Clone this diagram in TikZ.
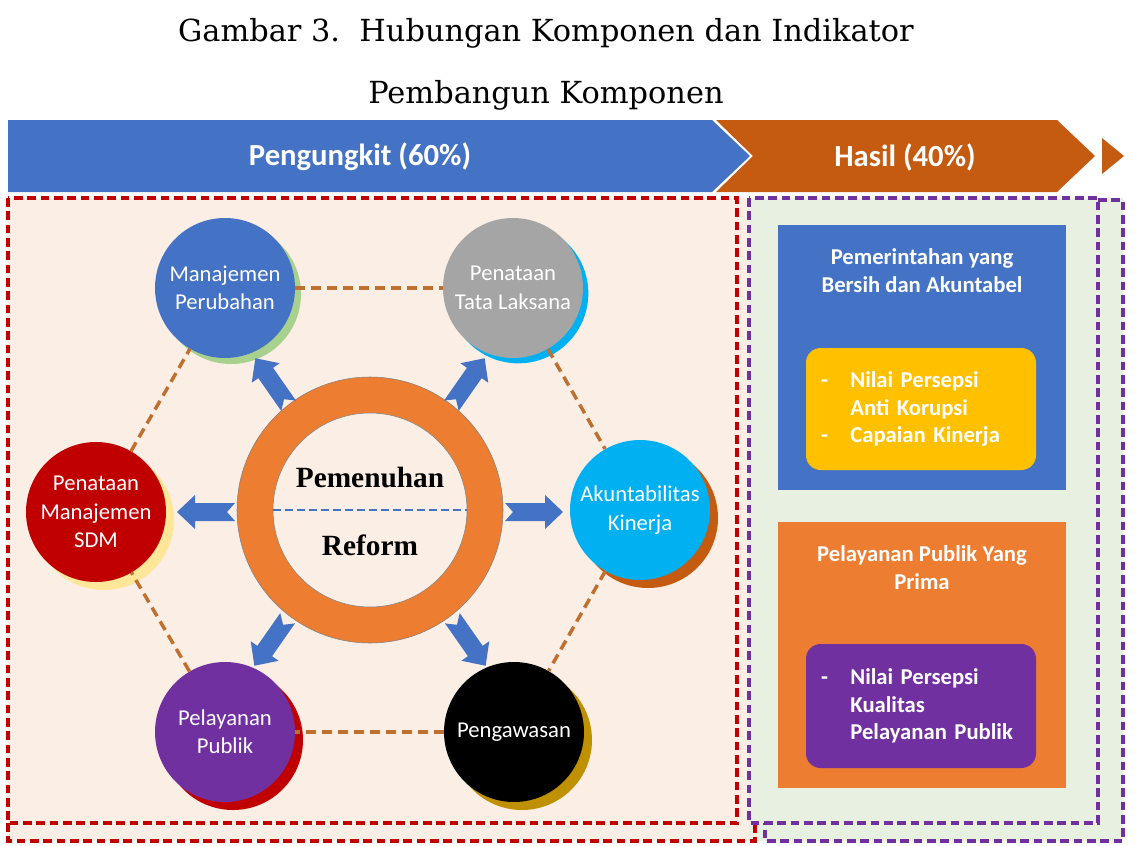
\documentclass[tikz,border=0pt]{standalone}
\usepackage{fontspec}
\setmainfont{Carlito}
\newfontfamily\titlefont{DejaVu Serif}
\newfontfamily\ringfont{Liberation Serif}
\usetikzlibrary{shadows,positioning}

\definecolor{bannerblue}{HTML}{4472C4}
\definecolor{bannerorange}{HTML}{C55A11}
\definecolor{boxorange}{HTML}{ED7D31}
\definecolor{indyellow}{HTML}{FFC000}
\definecolor{indpurple}{HTML}{7030A0}
\definecolor{peachbg}{HTML}{FBEEE5}
\definecolor{greenbg}{HTML}{E8F0E1}
\definecolor{darkred}{HTML}{C00000}
\definecolor{hexbrown}{HTML}{C0702E}
\definecolor{skyblue}{HTML}{00B0F0}
\definecolor{lightgreen}{HTML}{A9D18E}
\definecolor{paleyellow}{HTML}{FFE699}
\definecolor{gold}{HTML}{BF9000}
\definecolor{midgray}{HTML}{A5A5A5}

\tikzset{
  blkarrow/.pic={\fill[bannerblue] (-29,-9) -- (11,-9) -- (11,-17) -- (29,0) -- (11,17) -- (11,9) -- (-29,9) -- (-21,0) -- cycle;}
}

\begin{document}
\begin{tikzpicture}[x=0.75pt,y=-0.75pt,
    comp/.style={circle,minimum size=105pt,inner sep=0pt,text=white,align=center,
                 font=\fontsize{17}{21.3}\selectfont},
    shade/.style 2 args={drop shadow={shadow xshift=#1,shadow yshift=-#1,opacity=1,fill=#2}},
    hexline/.style={draw=hexbrown,line width=2.6pt,dash pattern=on 7.5pt off 4.5pt},
    reddash/.style={draw=darkred,line width=2.6pt,dash pattern=on 6.5pt off 3.5pt},
    purpledash/.style={draw=indpurple,line width=2.6pt,dash pattern=on 6.5pt off 3.5pt},
    banner/.style={text=white,font=\fontsize{23}{27}\selectfont\bfseries},
    goaltitle/.style={text=white,align=center,font=\fontsize{17}{21}\selectfont\bfseries},
    goalbox/.style={minimum width=216pt,inner sep=0pt},
    indbox/.style={rounded corners=11pt,minimum width=172.5pt,text width=150pt,inner xsep=11pt,
                   align=left,text=white,font=\fontsize{17}{20.6}\selectfont\bfseries},
    ringtext/.style={font=\ringfont\fontsize{22}{26}\selectfont\bfseries}]
\useasboundingbox (0,0) rectangle (1140,846);

% judul
\node[font=\titlefont\fontsize{22.8}{26}\selectfont] (title1) at (546,33) {Gambar 3.\ \ Hubungan Komponen dan Indikator};
\node[font=\titlefont\fontsize{22.8}{26}\selectfont] (title2) at (546,95) {Pembangun Komponen};

% banner
\fill[bannerblue] (8,120) -- (712,120) -- (750,156) -- (712,192) -- (8,192) -- cycle;
\fill[bannerorange] (716,120) -- (1057,120) -- (1095,156) -- (1057,192) -- (716,192) -- (753,156) -- cycle;
\fill[bannerorange] (1102,138) -- (1124,156) -- (1102,174) -- cycle;
\node[banner] (pengungkit) at (360,157) {Pengungkit (60\%)};
\node[banner] (hasil) at (905,157) {Hasil (40\%)};

% latar
\fill[peachbg] (8,198) rectangle (749,841);
\fill[greenbg] (749,198) rectangle (1123,841);
\draw[reddash] (8,198) rectangle (737,823);
\draw[reddash] (8,823) -- (8,841) -- (755,841) -- (755,823);
\draw[purpledash] (749,198) rectangle (1098,823);
\draw[purpledash] (1098,200) -- (1123,200) -- (1123,841) -- (765,841) -- (765,823);

% komponen pengungkit
\node[comp,fill=bannerblue,shade={4.5pt}{lightgreen}] (mp) at (225,288) {Manajemen\\Perubahan};
\node[comp,fill=midgray,shade={4pt}{skyblue}] (ptl) at (513,288) {Penataan\\Tata Laksana};
\node[comp,fill=skyblue,shade={6pt}{bannerorange}] (ak) at (640,510) {Akuntabilitas\\Kinerja};
\node[comp,fill=black,shade={6pt}{gold}] (peng) at (514,732) {Pengawasan};
\node[comp,fill=indpurple,shade={6pt}{darkred}] (pp) at (225,732) {Pelayanan\\Publik};
\node[comp,fill=darkred,shade={6pt}{paleyellow}] (sdm) at (96,512) {Penataan\\Manajemen\\SDM};

\draw[hexline] (mp) -- (ptl);
\draw[hexline] (ptl) -- (ak);
\draw[hexline] (ak) -- (peng);
\draw[hexline] (peng) -- (pp);
\draw[hexline] (pp) -- (sdm);
\draw[hexline] (sdm) -- (mp);

% lingkaran tengah
\node[circle,minimum size=199.5pt,fill=boxorange,draw=gray,inner sep=0pt] (ring) at (370,510) {};
\node[circle,minimum size=145.5pt,fill=peachbg,draw=gray,inner sep=0pt] (ringin) at (ring) {};
\draw[bannerblue,line width=2pt,dash pattern=on 6pt off 3pt] (ringin.west) -- (ringin.east);
\node[ringtext] (pemenuhan) at (370,477) {Pemenuhan};
\node[ringtext] (reform) at (370,545) {Reform};

\pic[rotate=125] at (272,382) {blkarrow};
\pic[rotate=55] at (468,382) {blkarrow};
\pic[rotate=180] at (206,512) {blkarrow};
\pic at (534,512) {blkarrow};
\pic[rotate=235] at (271,642) {blkarrow};
\pic[rotate=305] at (469,642) {blkarrow};

% hasil
\node[goalbox,fill=bannerblue,minimum height=199pt] (goalA) at (922,357.5) {};
\node[goaltitle] (goalAtitle) at (922,271) {Pemerintahan yang\\Bersih dan Akuntabel};
\node[indbox,fill=indyellow,minimum height=91.5pt] (indA) at (921,409)
  {\makebox[22pt][l]{-}Nilai Persepsi\\\makebox[22pt][l]{}Anti Korupsi\\\makebox[22pt][l]{-}Capaian Kinerja};

\node[goalbox,fill=boxorange,minimum height=199.5pt] (goalB) at (922,655) {};
\node[goaltitle] (goalBtitle) at (922,568) {Pelayanan Publik Yang\\Prima};
\node[indbox,fill=indpurple,minimum height=93pt] (indB) at (921,706)
  {\makebox[22pt][l]{-}Nilai Persepsi\\\makebox[22pt][l]{}Kualitas\\\makebox[22pt][l]{}Pelayanan Publik};
\end{tikzpicture}
\end{document}
